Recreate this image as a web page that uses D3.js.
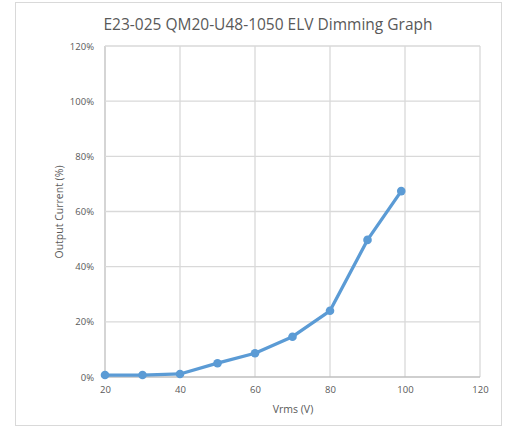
<!DOCTYPE html>
<html><head><meta charset="utf-8">
<script src="https://cdn.jsdelivr.net/npm/d3@7"></script>
<style>body{margin:0;background:#fff}svg{display:block}</style>
</head><body><svg id="c" width="508" height="427"></svg>
<script>
const titleText = "E23-025 QM20-U48-1050 ELV Dimming Graph";
const xLabel = "Vrms (V)";
const yLabel = "Output Current (%)";
const vrms = [20, 30, 40, 50, 60, 70, 80, 90, 99];
const outputPct = [0.7, 0.7, 1.1, 5.0, 8.6, 14.6, 24.0, 49.7, 67.4];
const xTicks = [20, 40, 60, 80, 100, 120];
const yTicks = [0, 20, 40, 60, 80, 100, 120];

const svg = d3.select("#c");
const font = "'Open Sans', 'Liberation Sans', sans-serif";
const L = 105, R = 480, T = 46, B = 377;
svg.append("rect").attr("x",15.5).attr("y",2.5).attr("width",486).attr("height",423)
  .attr("fill","#fff").attr("stroke","#d9d9d9");
const x = d3.scaleLinear().domain([20,120]).range([L,R]);
const y = d3.scaleLinear().domain([0,120]).range([B,T]);

const g = svg.append("g");
g.selectAll(".vg").data(xTicks).enter().append("line")
  .attr("x1",d=>x(d)).attr("x2",d=>x(d)).attr("y1",T).attr("y2",B)
  .attr("stroke",d=>d===20?"#bfbfbf":"#d9d9d9").attr("stroke-width",1.3);
g.selectAll(".hg").data(yTicks).enter().append("line")
  .attr("x1",L).attr("x2",R).attr("y1",d=>y(d)).attr("y2",d=>y(d))
  .attr("stroke",d=>d===0?"#bfbfbf":"#d9d9d9").attr("stroke-width",1.3);

const yAxis = d3.axisLeft(y).tickValues(yTicks).tickFormat(d=>d+"%").tickSize(0).tickPadding(11);
const ya = svg.append("g").attr("transform",`translate(${L},0)`).call(yAxis);
ya.select(".domain").remove();
ya.selectAll("text").attr("fill","#595959").style("font-family",font).style("font-size","9.5px");

const xAxis = d3.axisBottom(x).tickValues(xTicks).tickSize(0).tickPadding(9);
const xa = svg.append("g").attr("transform",`translate(0,${B})`).call(xAxis);
xa.select(".domain").remove();
xa.selectAll("text").attr("fill","#595959").style("font-family",font).style("font-size","9.5px");

const pts = vrms.map((v,i)=>[v,outputPct[i]]);
svg.append("path").datum(pts).attr("fill","none").attr("stroke","#5b9bd5")
  .attr("stroke-width",3.3).attr("stroke-linejoin","round")
  .attr("d",d3.line().x(d=>x(d[0])).y(d=>y(d[1])));
svg.selectAll(".pt").data(pts).enter().append("circle")
  .attr("cx",d=>x(d[0])).attr("cy",d=>y(d[1])).attr("r",4.3).attr("fill","#5b9bd5");

svg.append("text").attr("x",268).attr("y",29.5).attr("text-anchor","middle")
  .attr("fill","#595959").style("font-family",font).style("font-size","15.5px").text(titleText);
svg.append("text").attr("x",293).attr("y",413).attr("text-anchor","middle")
  .attr("fill","#595959").style("font-family",font).style("font-size","10.5px").text(xLabel);
svg.append("text").attr("transform","translate(63,212) rotate(-90)").attr("text-anchor","middle")
  .attr("fill","#595959").style("font-family",font).style("font-size","10.5px").text(yLabel);
</script></body></html>
